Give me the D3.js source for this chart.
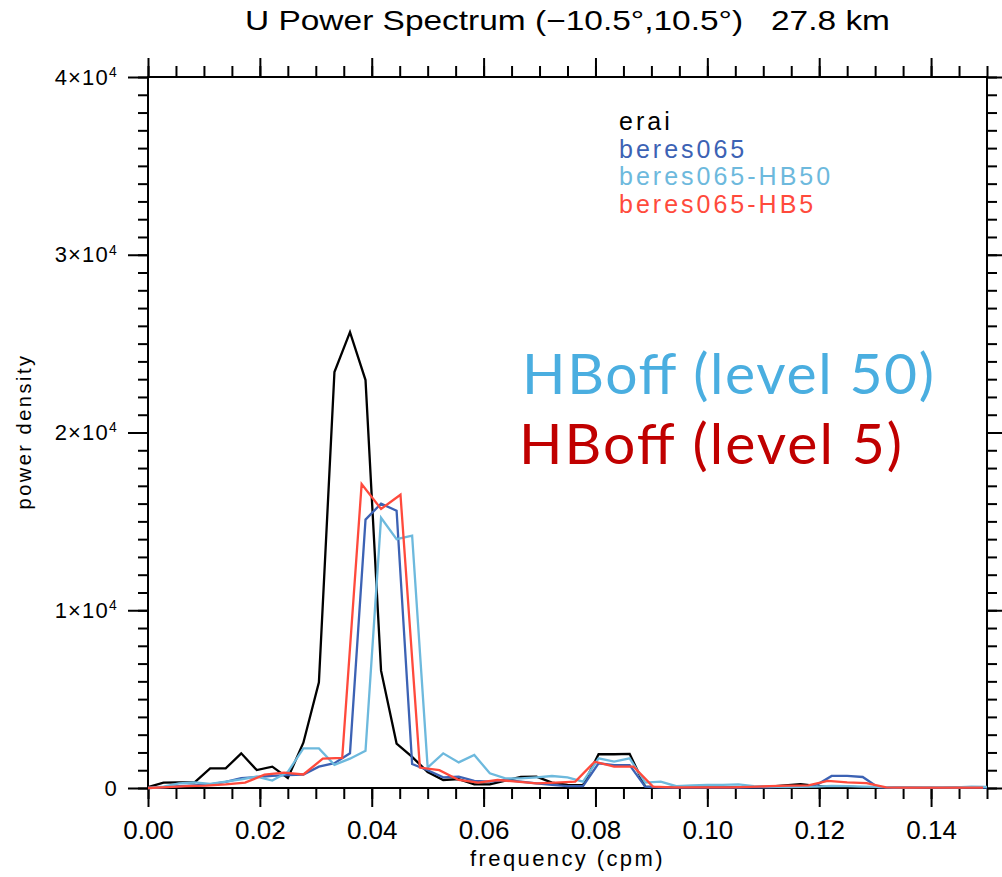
<!DOCTYPE html>
<meta charset="utf-8">
<script src="https://d3js.org/d3.v7.min.js"></script>
<style>
  body { margin: 0; background: #fff; }
  text { font-family: "Liberation Sans", Arial, sans-serif; }
</style>
<div id="chart"></div>
<script>

// frequency spacing of each record (cycles per month)
var stepMain = 1 / 360,   // erai, beres065, beres065-HB50
    stepHB5 = 1 / 288;    // beres065-HB5 (shorter run)

// power density, one value per frequency bin
var erai = [50, 300, 320, 320, 1100, 1100, 1950, 1010, 1200, 560,
  2550, 5950, 23400, 25650, 22950, 6600, 2500, 1750, 900, 450,
  500, 200, 200, 420, 620, 640, 300, 170, 160, 1900,
  1900, 1920, 70, 30, 20, 20, 20, 20, 30, 50,
  80, 150, 220, 120, 60, 80, 30, 20, 20, 20,
  20, 20, 20, 20, 20];

var beres065 = [0, 40, 100, 150, 200, 350, 550, 620, 680, 730,
  760, 1200, 1400, 1950, 15100, 16000, 15600, 1350, 1000, 600,
  640, 400, 360, 450, 360, 260, 170, 110, 110, 1390,
  1290, 1290, 80, 20, 20, 20, 20, 20, 20, 30,
  40, 60, 80, 150, 680, 680, 620, 30, 20, 20,
  20, 20, 20, 20, 20];

var beresHB50 = [0, 75, 260, 320, 225, 360, 490, 640, 420, 900,
  2230, 2230, 1300, 1650, 2100, 15200, 14000, 14200, 1150, 1950,
  1440, 1860, 825, 540, 540, 600, 675, 600, 360, 1670,
  1480, 1670, 300, 360, 100, 150, 180, 180, 200, 100,
  80, 50, 60, 80, 120, 100, 80, 60, 40, 30,
  50, 50, 30, 80, 60];

var beresHB5 = [0, 50, 100, 130, 200, 300, 750, 870, 760, 1650,
  1700, 17100, 15700, 16500, 1150, 1000, 450, 300, 450, 360,
  260, 300, 360, 1480, 1200, 1200, 80, 40, 30, 30,
  40, 60, 100, 130, 150, 400, 320, 280, 30, 20,
  20, 20, 20, 20];

var seriesNames = ["erai", "beres065", "beres065-HB50", "beres065-HB5"];
var seriesColors = ["#000000", "#3c62b4", "#6db9dd", "#ff4a3c"];

var xMajor = [0, 0.02, 0.04, 0.06, 0.08, 0.10, 0.12, 0.14];
var yMajor = [0, 10000, 20000, 30000, 40000];

var margin = {top: 77, right: 15, bottom: 89, left: 148},
  width = 1002 - margin.left - margin.right,
  height = 877 - margin.top - margin.bottom;

var svg = d3.select("#chart")
  .append("svg")
    .attr("width", 1002)
    .attr("height", 877)
  .append("g")
    .attr("transform", "translate(" + margin.left + "," + margin.top + ")");

var x = d3.scaleLinear().domain([0, 0.15]).range([0, width]);
var y = d3.scaleLinear().domain([0, 40000]).range([height, 0]);

var xMinor = d3.range(31).map(function(i) { return i * 0.005; });
var yMinor = d3.range(41).map(function(i) { return i * 1000; });

function styleAxis(g) {
  g.select(".domain").remove();
  g.selectAll("line").attr("stroke", "#000").attr("stroke-width", 2);
}

// minor ticks on all four sides
svg.append("g").attr("transform", "translate(0," + height + ")")
  .call(d3.axisBottom(x).tickValues(xMinor).tickSize(11).tickFormat(""))
  .call(styleAxis);
svg.append("g")
  .call(d3.axisTop(x).tickValues(xMinor).tickSize(11).tickFormat(""))
  .call(styleAxis);
svg.append("g")
  .call(d3.axisLeft(y).tickValues(yMinor).tickSize(10).tickFormat(""))
  .call(styleAxis);
svg.append("g").attr("transform", "translate(" + width + ",0)")
  .call(d3.axisRight(y).tickValues(yMinor).tickSize(10).tickFormat(""))
  .call(styleAxis);

// major ticks
var xAxis = svg.append("g").attr("transform", "translate(0," + height + ")")
  .call(d3.axisBottom(x).tickValues(xMajor).tickSize(19).tickPadding(14)
    .tickFormat(d3.format(".2f")))
  .call(styleAxis);
xAxis.selectAll("text")
  .attr("fill", "#000")
  .style("font-size", "26px");

svg.append("g")
  .call(d3.axisTop(x).tickValues(xMajor).tickSize(19).tickFormat(""))
  .call(styleAxis);
svg.append("g").attr("transform", "translate(" + width + ",0)")
  .call(d3.axisRight(y).tickValues(yMajor).tickSize(19).tickFormat(""))
  .call(styleAxis);

var yAxis = svg.append("g")
  .call(d3.axisLeft(y).tickValues(yMajor).tickSize(20).tickPadding(10).tickFormat(""))
  .call(styleAxis);
yAxis.selectAll(".tick text")
  .attr("fill", "#000")
  .style("font-size", "22px")
  .style("letter-spacing", "1.2px")
  .each(function(d) {
    var t = d3.select(this);
    if (d === 0) { t.text("0"); return; }
    t.append("tspan").text((d / 10000) + "×10");
    t.append("tspan").text("4").attr("dy", "-0.55em").style("font-size", "14px");
  });

// frame
svg.append("rect")
  .attr("width", width)
  .attr("height", height)
  .attr("fill", "none")
  .attr("stroke", "#000")
  .attr("stroke-width", 2);

// lines
var line = d3.line()
  .x(function(d) { return x(d[0]); })
  .y(function(d) { return y(d[1]); });

var seriesData = [
  erai.map(function(v, i) { return [i * stepMain, v]; }),
  beres065.map(function(v, i) { return [i * stepMain, v]; }),
  beresHB50.map(function(v, i) { return [i * stepMain, v]; }),
  beresHB5.map(function(v, i) { return [i * stepHB5, v]; })
];

svg.selectAll(".series")
  .data(seriesData)
  .enter()
  .append("path")
    .attr("class", "series")
    .attr("d", line)
    .attr("fill", "none")
    .attr("stroke", function(d, i) { return seriesColors[i]; })
    .attr("stroke-width", 2.3)
    .attr("stroke-linejoin", "miter");

// legend
svg.selectAll(".legend")
  .data(seriesNames)
  .enter()
  .append("text")
    .attr("class", "legend")
    .attr("x", 471)
    .attr("y", function(d, i) { return 53 + i * 27.7; })
    .attr("fill", function(d, i) { return seriesColors[i]; })
    .style("font-size", "25px")
    .style("letter-spacing", "3px")
    .text(function(d) { return d; });

// annotations
svg.append("text")
  .attr("x", 374)
  .attr("y", 317)
  .attr("fill", "#4aaee0")
  .style("font-family", "Lato, sans-serif")
  .style("font-size", "57px")
  .attr("textLength", 412)
  .text("HBoff (level 50)");

svg.append("text")
  .attr("x", 371)
  .attr("y", 387)
  .attr("fill", "#c00000")
  .style("font-family", "Lato, sans-serif")
  .style("font-size", "57px")
  .attr("textLength", 383)
  .text("HBoff (level 5)");

// title and axis titles
svg.append("text")
  .attr("x", width / 2)
  .attr("y", -47)
  .attr("text-anchor", "middle")
  .style("font-size", "28px")
  .style("white-space", "pre")
  .attr("textLength", 645)
  .attr("lengthAdjust", "spacingAndGlyphs")
  .text("U Power Spectrum (\u221210.5\u00b0,10.5\u00b0)   27.8 km");

svg.append("text")
  .attr("x", width / 2)
  .attr("y", height + 78)
  .attr("text-anchor", "middle")
  .style("font-size", "22px")
  .style("letter-spacing", "2.4px")
  .text("frequency (cpm)");

svg.append("text")
  .attr("transform", "translate(-117," + (height / 2 - 1) + ") rotate(-90)")
  .attr("text-anchor", "middle")
  .style("font-size", "20px")
  .style("letter-spacing", "2.5px")
  .text("power density");

</script>
